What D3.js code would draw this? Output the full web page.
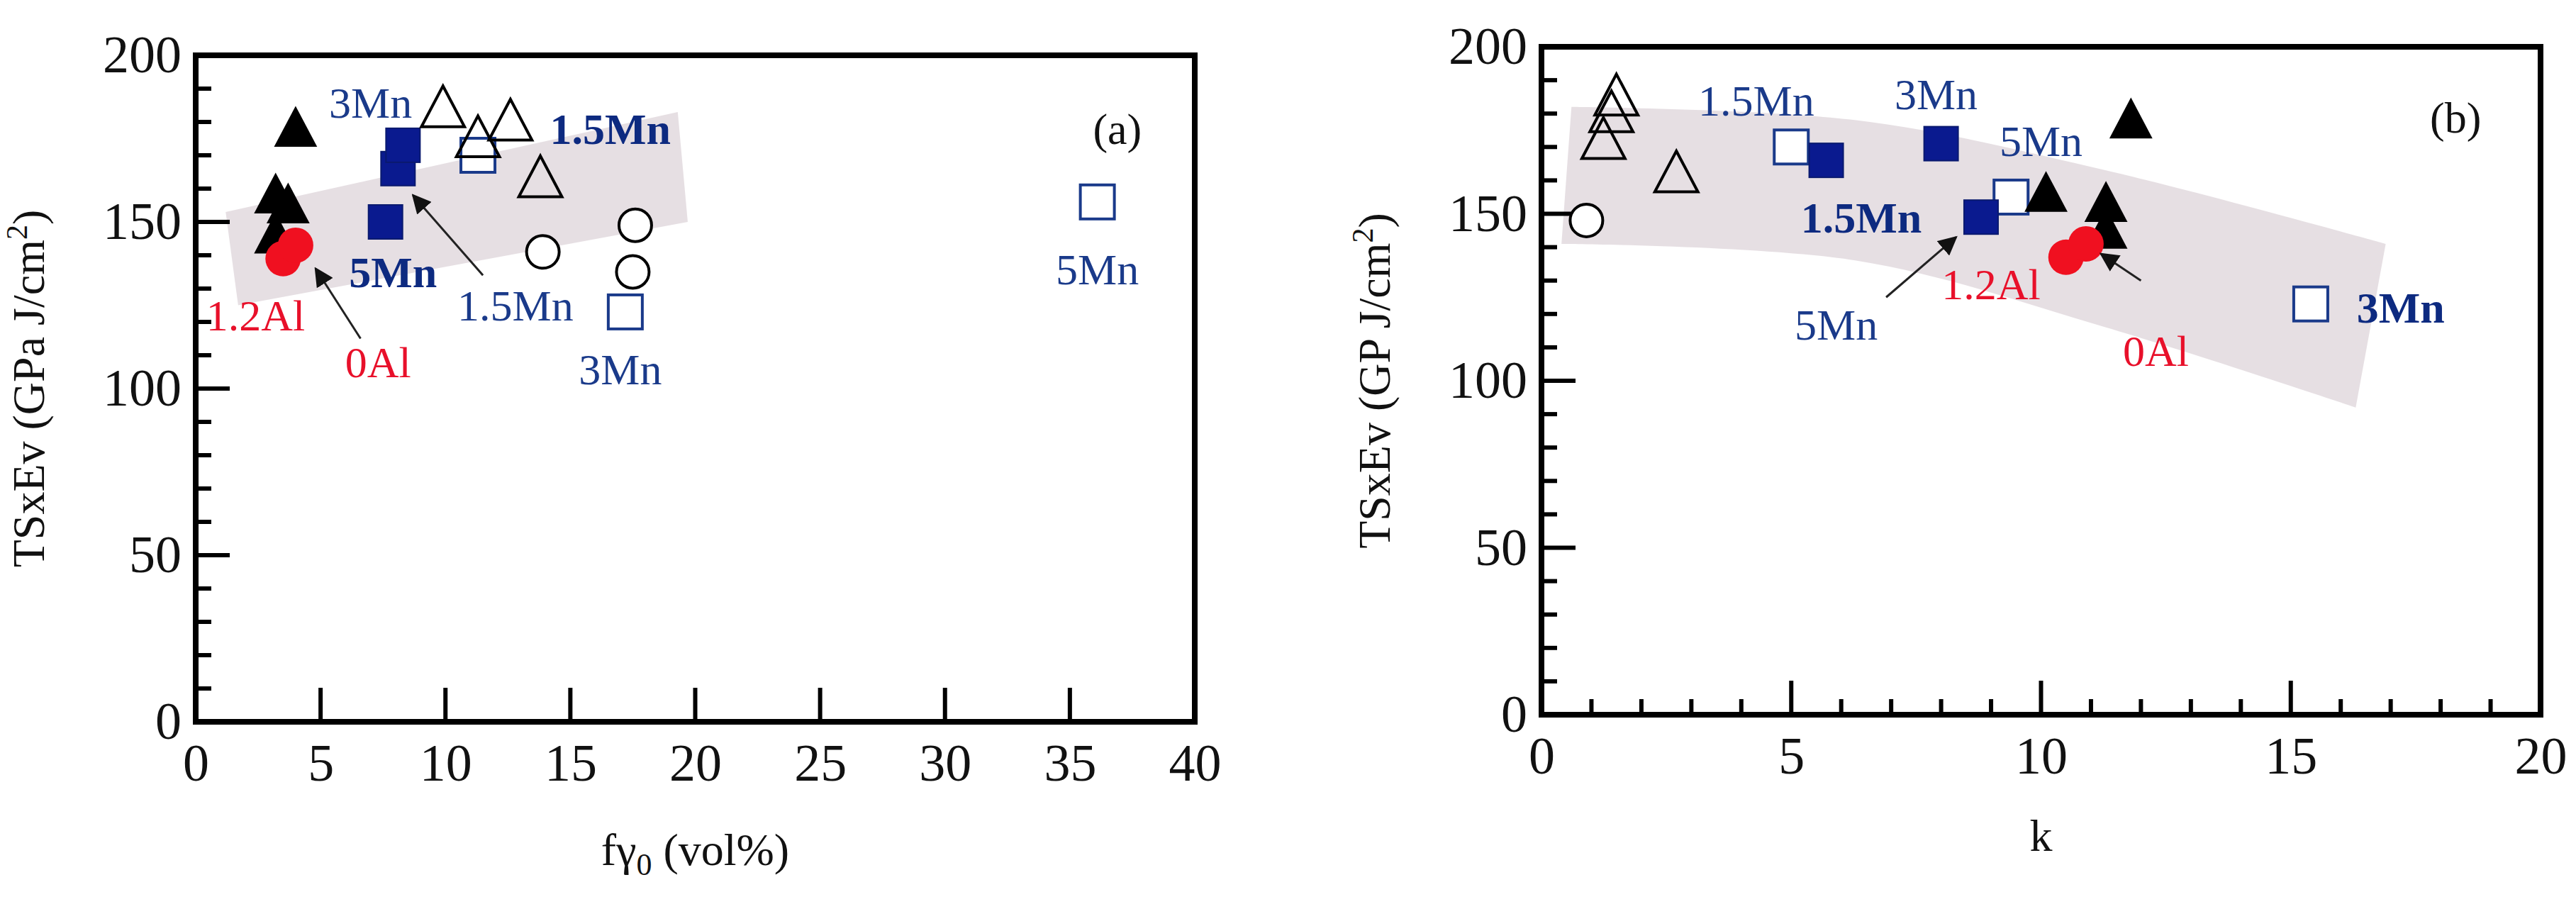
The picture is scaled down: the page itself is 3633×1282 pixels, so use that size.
<!DOCTYPE html><html><head><meta charset="utf-8">
<script src="https://cdn.jsdelivr.net/npm/d3@7"></script>
<style>body{margin:0;background:#fff}text{font-family:"Liberation Serif","DejaVu Serif",serif}</style></head><body>
<svg id="c" width="3633" height="1282"></svg>
<script>
// Panel (a): x = f_gamma0 (vol%), y = TSxEv
const aFilledTri=[[4.0,178],[3.2,158],[3.7,155],[3.2,146]];
const aRedCircle=[[3.5,139],[4.0,143]];
const aFilledSq=[[7.6,150],[8.1,166],[8.3,173]];
const aOpenTri=[[9.9,184],[11.3,175],[12.6,180],[13.8,163]];
const aOpenSq=[[11.3,170],[17.2,123],[36.1,156]];
const aOpenCircle=[[13.9,141],[17.6,149],[17.5,135]];
const aBand=[[1.2,153],[19.3,183],[19.7,150],[1.7,125]];
const aLabels=[["3Mn",7.0,186,"#1a3a8a",false],["1.5Mn",16.6,178,"#0d2a80",true],["5Mn",7.9,135,"#0d2a80",true],["1.5Mn",12.8,125,"#1a3a8a",false],["3Mn",17.0,106,"#1a3a8a",false],["5Mn",36.1,136,"#1a3a8a",false],["1.2Al",2.4,122,"#e8102a",false],["0Al",7.3,108,"#e8102a",false],["(a)",36.9,178,"#111",false]];
const aArrows=[[11.5,134,8.7,158],[6.6,115,4.8,136]];
// Panel (b): x = k
const bFilledTri=[[10.1,156],[11.8,178],[11.3,153],[11.3,145]];
const bRedCircle=[[10.5,137],[10.9,141]];
const bFilledSq=[[5.7,166],[8.0,171],[8.8,149]];
const bOpenTri=[[1.24,172],[1.4,180],[1.5,185],[2.7,162]];
const bOpenSq=[[5.0,170],[9.4,155],[15.4,123]];
const bOpenCircle=[[0.9,148]];
const bBandTop=[[0.6,182],[6.3,178],[11.3,163],[16.9,141]];
const bBandBot=[[16.3,92],[11.3,116],[6.3,136],[0.4,141]];
const bLabels=[["1.5Mn",4.3,184,"#1a3a8a",false],["3Mn",7.9,186,"#1a3a8a",false],["5Mn",10.0,172,"#1a3a8a",false],["1.5Mn",6.4,149,"#0d2a80",true],["5Mn",5.9,117,"#1a3a8a",false],["1.2Al",9.0,129,"#e8102a",false],["3Mn",17.2,122,"#0d2a80",true],["0Al",12.3,109,"#e8102a",false],["(b)",18.3,179,"#111",false]];
const bArrows=[[6.9,125,8.3,143],[12.0,130,11.2,138]];
const yTicks=[0,50,100,150,200];

const svg=d3.select("#c");
svg.append("defs").append("marker").attr("id","ah").attr("viewBox","0 0 10 10").attr("refX",9).attr("refY",5)
 .attr("markerWidth",9).attr("markerHeight",9).attr("orient","auto").append("path").attr("d","M0,0L10,5L0,10z").attr("fill","#111");

function panel(o){
 const g=svg.append("g");
 const x=d3.scaleLinear().domain(o.xd).range([o.l,o.r]);
 const y=d3.scaleLinear().domain([0,200]).range([o.b,o.t]);
 g.append("path").attr("d",o.band(x,y)).attr("fill","#e3dbe0").attr("opacity",0.9);
 d3.range(o.xd[0],o.xd[1]+1e-9,o.xminor).forEach(v=>{const maj=Math.abs(v/o.xmajor-Math.round(v/o.xmajor))<1e-6;
  g.append("line").attr("x1",x(v)).attr("x2",x(v)).attr("y1",o.b).attr("y2",o.b-(maj?48:22)).attr("stroke","#000").attr("stroke-width",6);});
 d3.range(0,201,10).forEach(v=>{const maj=v%50==0;
  g.append("line").attr("x1",o.l).attr("x2",o.l+(maj?48:22)).attr("y1",y(v)).attr("y2",y(v)).attr("stroke","#000").attr("stroke-width",6);});
 g.append("rect").attr("x",o.l).attr("y",o.t).attr("width",o.r-o.l).attr("height",o.b-o.t).attr("fill","none").attr("stroke","#000").attr("stroke-width",8);
 const xax=g.append("g").attr("transform",`translate(0,${o.b})`).call(d3.axisBottom(x).tickValues(o.xt).tickSize(0).tickPadding(30).tickFormat(d3.format("d")));
 xax.select(".domain").remove(); xax.selectAll("text").attr("font-size",74).attr("font-family","Liberation Serif").attr("fill","#111");
 const yax=g.append("g").attr("transform",`translate(${o.l},0)`).call(d3.axisLeft(y).tickValues(yTicks).tickSize(0).tickPadding(20));
 yax.select(".domain").remove(); yax.selectAll("text").attr("font-size",74).attr("font-family","Liberation Serif").attr("fill","#111");
 const yt=g.append("text").attr("transform",`translate(${o.ytx},${(o.t+o.b)/2}) rotate(-90)`).attr("text-anchor","middle").attr("font-size",64).attr("fill","#111");
 yt.append("tspan").text(o.ytitle); yt.append("tspan").attr("font-size",42).attr("dy",-24).text("2"); yt.append("tspan").attr("dy",24).text(")");
 o.xtitle(g.append("text").attr("x",(o.l+o.r)/2).attr("y",o.xty).attr("text-anchor","middle").attr("font-size",64).attr("fill","#111"));
 const sq=48,tri=32;
 const P=(d)=>[x(d[0]),y(d[1])];
 o.osq.forEach(d=>{const[a,b]=P(d);g.append("rect").attr("x",a-sq/2).attr("y",b-sq/2).attr("width",sq).attr("height",sq).attr("fill","#fff").attr("stroke","#1a3a8a").attr("stroke-width",4);});
 o.fsq.forEach(d=>{const[a,b]=P(d);g.append("rect").attr("x",a-sq/2).attr("y",b-sq/2).attr("width",sq).attr("height",sq).attr("fill","#0a1a8f").attr("stroke","#0a1a6f").attr("stroke-width",2);});
 const tp=(a,b)=>`M${a},${b-tri}L${a+tri*0.95},${b+tri*0.8}L${a-tri*0.95},${b+tri*0.8}Z`;
 o.otri.forEach(d=>{const[a,b]=P(d);g.append("path").attr("d",tp(a,b)).attr("fill","none").attr("stroke","#000").attr("stroke-width",4);});
 o.ftri.forEach(d=>{const[a,b]=P(d);g.append("path").attr("d",tp(a,b)).attr("fill","#000");});
 o.ocir.forEach(d=>{const[a,b]=P(d);g.append("circle").attr("cx",a).attr("cy",b).attr("r",23).attr("fill","#fff").attr("stroke","#000").attr("stroke-width",4);});
 o.rcir.forEach(d=>{const[a,b]=P(d);g.append("circle").attr("cx",a).attr("cy",b).attr("r",25).attr("fill","#f01020");});
 o.arrows.forEach(d=>g.append("line").attr("x1",x(d[0])).attr("y1",y(d[1])).attr("x2",x(d[2])).attr("y2",y(d[3])).attr("stroke","#222").attr("stroke-width",3).attr("marker-end","url(#ah)"));
 o.labels.forEach(d=>g.append("text").attr("x",x(d[1])).attr("y",y(d[2])).attr("text-anchor","middle").attr("dy","0.35em").attr("font-size",62).attr("font-weight",d[4]?"bold":"normal").attr("fill",d[3]).text(d[0]));
}
panel({xd:[0,40],xt:d3.range(0,41,5),xmajor:5,xminor:5,l:276,r:1685,t:78,b:1018,ytx:62,xty:1220,
 ytitle:"TSxEv (GPa J/cm",xtitle:t=>{t.append("tspan").text("fγ");t.append("tspan").attr("font-size",44).attr("dy",14).text("0");t.append("tspan").attr("dy",-14).text(" (vol%)");},
 band:(x,y)=>"M"+aBand.map(d=>[x(d[0]),y(d[1])].join(",")).join("L")+"Z",
 osq:aOpenSq,fsq:aFilledSq,otri:aOpenTri,ftri:aFilledTri,ocir:aOpenCircle,rcir:aRedCircle,arrows:aArrows,labels:aLabels});
panel({xd:[0,20],xt:d3.range(0,21,5),xmajor:5,xminor:1,l:2174,r:3583,t:66,b:1008,ytx:1960,xty:1200,
 ytitle:"TSxEv (GP J/cm",xtitle:t=>t.text("k"),
 band:(x,y)=>{const L=d3.line().x(d=>x(d[0])).y(d=>y(d[1])).curve(d3.curveCatmullRom);return L(bBandTop)+"L"+L(bBandBot).slice(1)+"Z";},
 osq:bOpenSq,fsq:bFilledSq,otri:bOpenTri,ftri:bFilledTri,ocir:bOpenCircle,rcir:bRedCircle,arrows:bArrows,labels:bLabels});
</script></body></html>
